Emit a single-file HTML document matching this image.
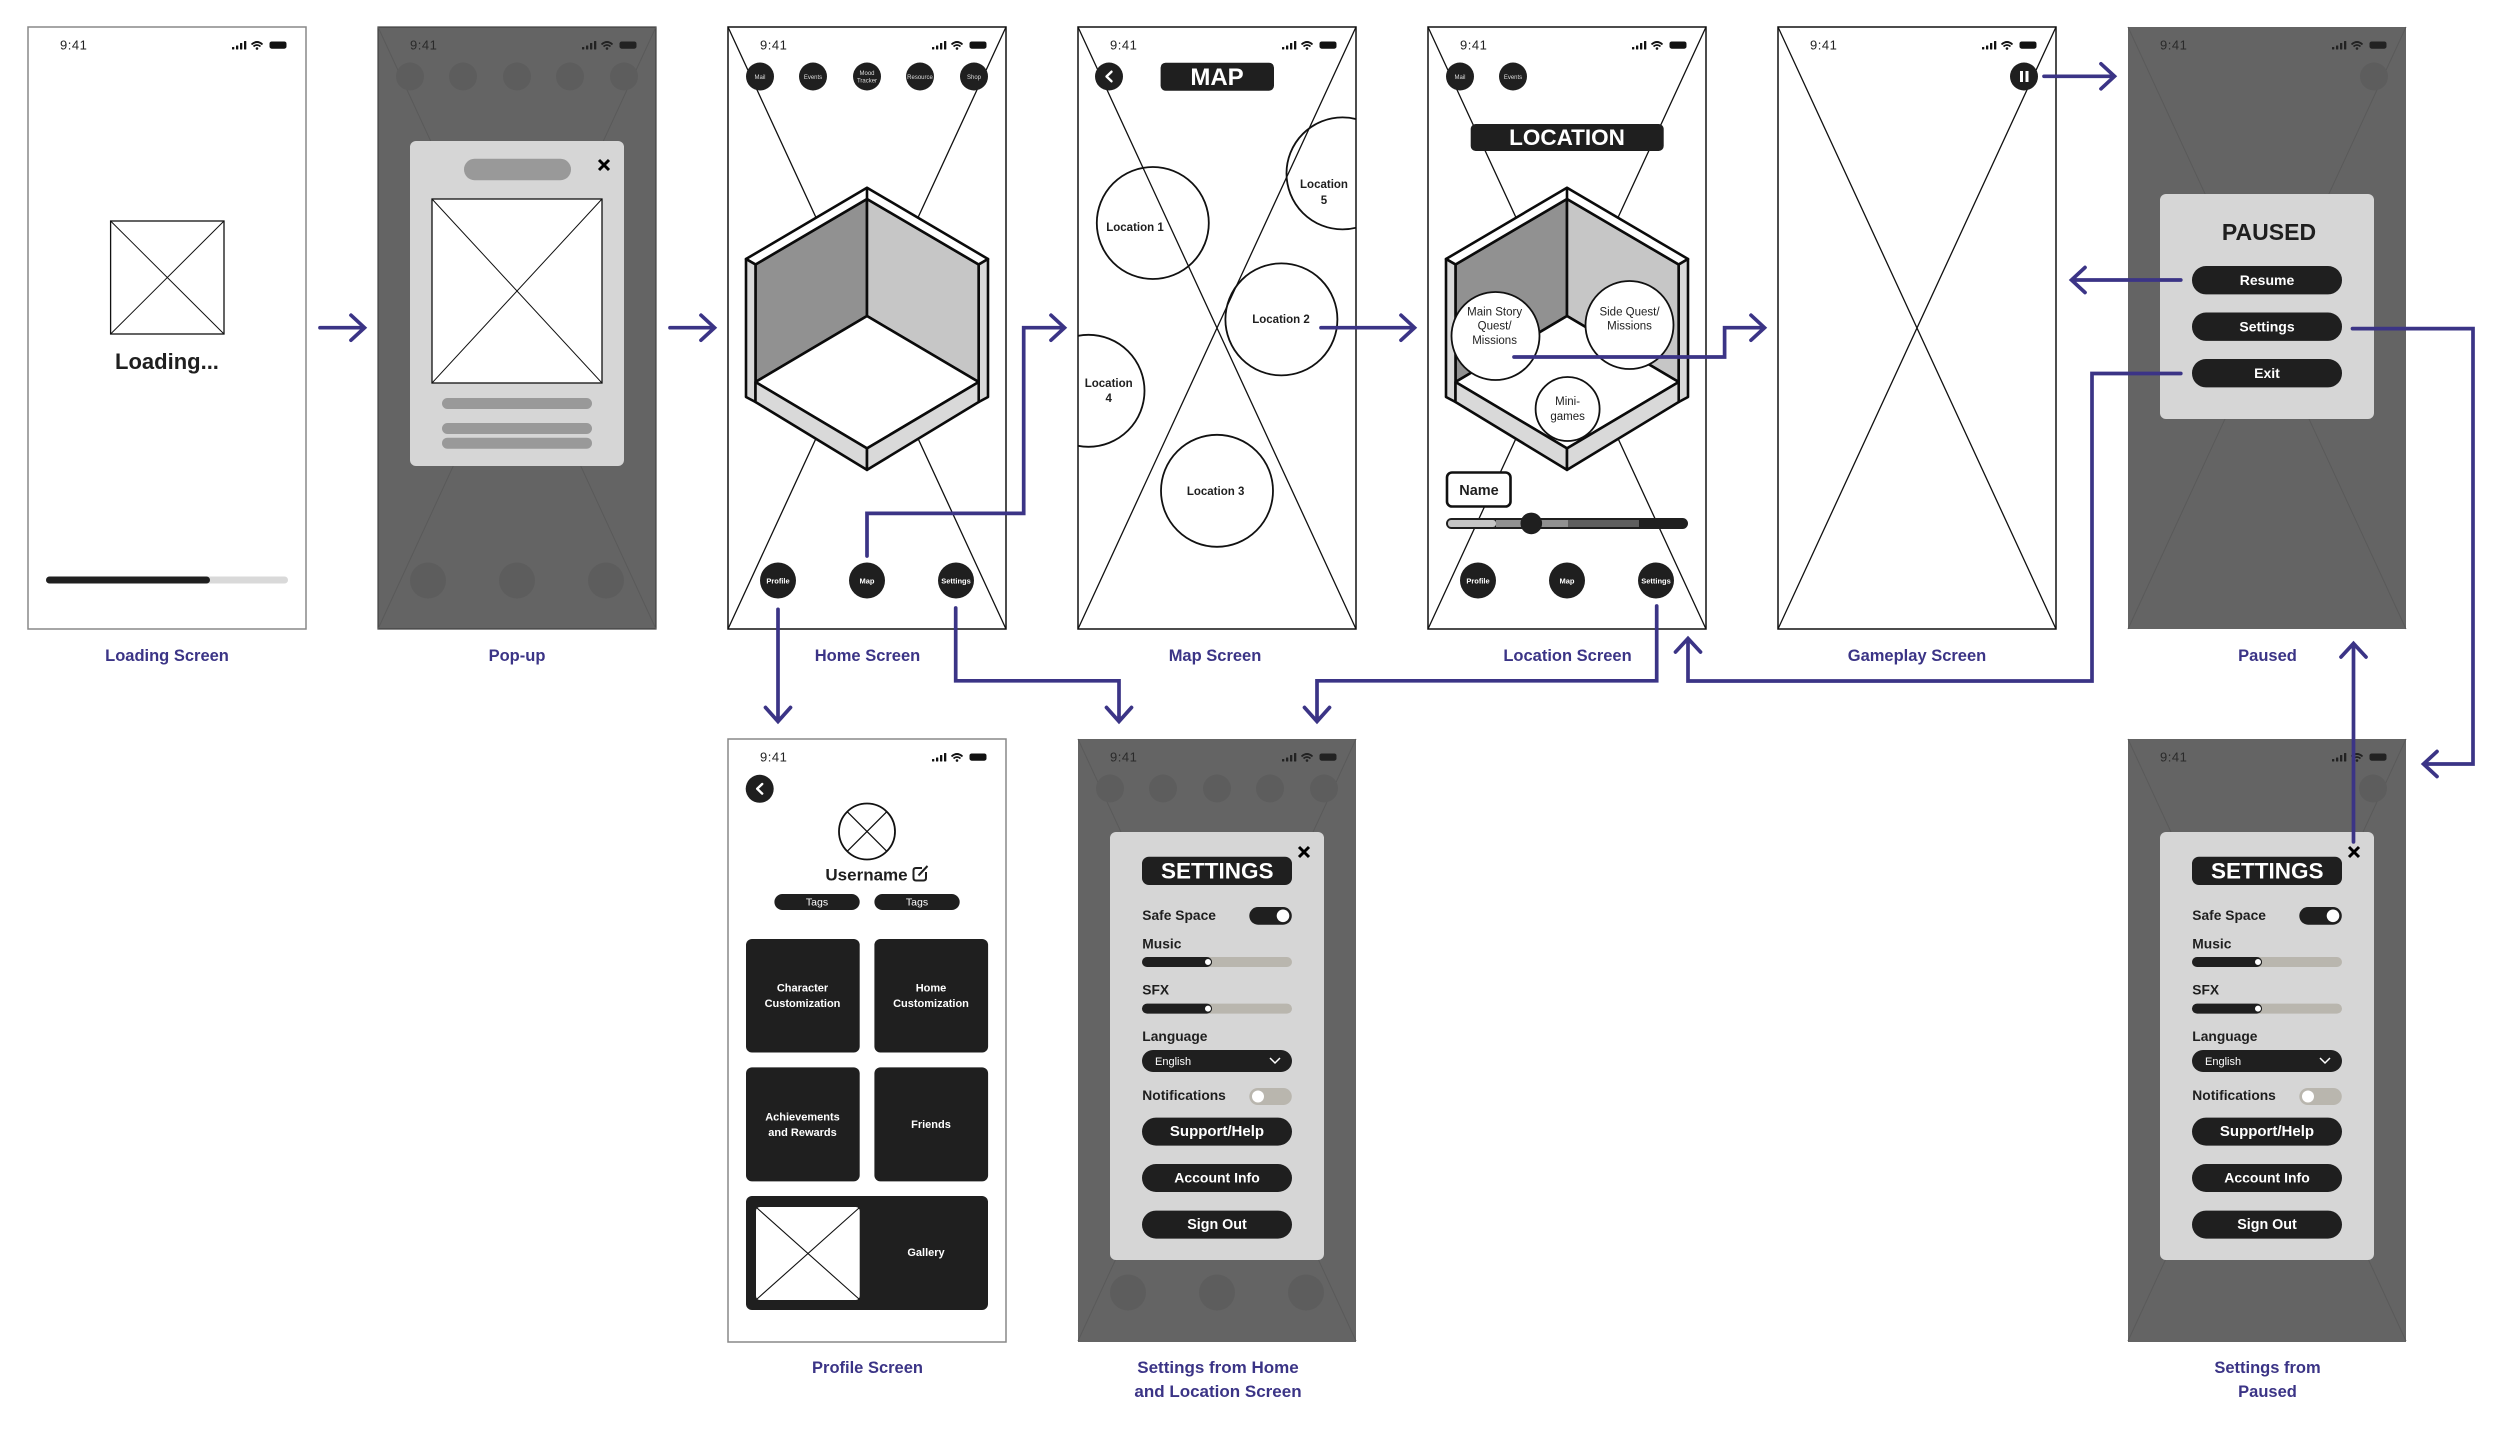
<!DOCTYPE html>
<html><head><meta charset="utf-8"><title>Wireframe flow</title>
<style>
html,body{margin:0;padding:0;background:#fff;width:2500px;height:1429px;overflow:hidden}
svg{display:block}
text{font-family:"Liberation Sans",sans-serif}
.m{text-anchor:middle}
.st{font-size:13px;letter-spacing:.5px;fill:#222}
.lb{font-size:16.500px;font-weight:bold;fill:#3b3486;text-anchor:middle}
.w{fill:#fff;text-anchor:middle;font-weight:bold}
.k{fill:#1f1f1f;font-weight:bold}
.ar{fill:none;stroke:#3b3486;stroke-width:3.700;stroke-linejoin:miter;stroke-linecap:round}
</style></head><body>
<svg xmlns="http://www.w3.org/2000/svg" width="2500" height="1429" viewBox="0 0 2500 1429">
<defs>
<g id="icons">
<rect x="204" y="20" width="2.300" height="2.500" rx=".5"/><rect x="208" y="18.500" width="2.300" height="4" rx=".5"/><rect x="212" y="16" width="2.300" height="6.500" rx=".5"/><rect x="216" y="14" width="2.300" height="8.500" rx=".5"/>
<path d="M223.500 17.500Q229 12.500 234.500 17.500M225.500 19.500Q229 16.500 232.500 19.500" fill="none" stroke="currentColor" stroke-width="1.800"/><circle cx="229" cy="21.500" r="1.300"/>
<rect x="241.500" y="14.500" width="17" height="7.200" rx="2.200"/>
</g>
<g id="xw"><path d="M0 0L278 602M278 0L0 602" fill="none" stroke="#111" stroke-width="1.300"/></g>
<g id="xg"><path d="M0 0L278 602M278 0L0 602" fill="none" stroke="#5a5a5a" stroke-width="1"/></g>
<g id="hex" stroke="#0b0b0b" stroke-width="2.600" stroke-linejoin="round">
<path d="M139 172L27.500 237.500V355L139 289Z" fill="#919191"/>
<path d="M139 172L250.700 237.500V355L139 289Z" fill="#c6c6c6"/>
<path d="M139 289L250.700 355L139 421.400L27.500 355Z" fill="#fff"/>
<path d="M139 160.700L260 232L250.700 237.500L139 172L27.500 237.500L18 232Z" fill="#fff"/>
<path d="M18 232L27.500 237.500V375L18 370Z" fill="#d9d9d9"/>
<path d="M260 232L250.700 237.500V375L260 370Z" fill="#d9d9d9"/>
<path d="M27.500 355L139 421.400V442.900L27.500 375Z" fill="#d9d9d9"/>
<path d="M250.700 355L139 421.400V442.900L250.700 375Z" fill="#d9d9d9"/>
<path d="M139 160.700V172" fill="none"/>
</g>
<g id="chev"><path d="M2.500 -4.800L-2.500 0L2.500 4.800" fill="none" stroke="#fff" stroke-width="2.400" stroke-linecap="round" stroke-linejoin="round"/></g>
<g id="pbtn"><rect x="-4" y="-5.500" width="3" height="11" fill="#fff"/><rect x="1.500" y="-5.500" width="3" height="11" fill="#fff"/></g>
<g id="close"><path d="M-5 -5L5 5M5 -5L-5 5" stroke="#000" stroke-width="3" fill="none"/></g>
<clipPath id="fr"><rect x="0" y="0" width="278" height="602"/></clipPath>
<g id="ghostTop" fill="#5d5d5d"><circle cx="32" cy="49.500" r="14"/><circle cx="85" cy="49.500" r="14"/><circle cx="139" cy="49.500" r="14"/><circle cx="192" cy="49.500" r="14"/><circle cx="246" cy="49.500" r="14"/></g>
<g id="ghostBot" fill="#5d5d5d"><circle cx="50" cy="553.500" r="18"/><circle cx="139" cy="553.500" r="18"/><circle cx="228" cy="553.500" r="18"/></g>
<g id="topTwo" fill="#1f1f1f"><circle cx="32" cy="49.500" r="14"/><circle cx="85" cy="49.500" r="14"/></g>
<g id="bot3" fill="#1f1f1f"><circle cx="50" cy="553.500" r="18"/><circle cx="139" cy="553.500" r="18"/><circle cx="228" cy="553.500" r="18"/></g>
<g id="setbody">
<rect x="32" y="93" width="214" height="428" rx="6" fill="#d6d6d6"/>
<use href="#close" x="226" y="113"/>
<rect x="64" y="117.700" width="150" height="28.300" rx="7" fill="#1f1f1f"/>
<rect x="171.300" y="168" width="42.500" height="17.700" rx="8.800" fill="#1f1f1f"/><circle cx="205" cy="176.800" r="6.300" fill="#fff"/>
<rect x="64" y="218" width="150" height="10" rx="5" fill="#b9b6ae"/><rect x="64" y="218" width="70" height="10" rx="5" fill="#1f1f1f"/><circle cx="130" cy="223" r="3.500" fill="#fff" stroke="#1f1f1f"/>
<rect x="64" y="264.600" width="150" height="10" rx="5" fill="#b9b6ae"/><rect x="64" y="264.600" width="70" height="10" rx="5" fill="#1f1f1f"/><circle cx="130" cy="269.600" r="3.500" fill="#fff" stroke="#1f1f1f"/>
<rect x="64" y="311" width="150" height="22" rx="11" fill="#1f1f1f"/><path d="M192 319L197 324L202 319" fill="none" stroke="#fff" stroke-width="1.500"/>
<rect x="171.300" y="349" width="42.500" height="17" rx="8.500" fill="#b9b6ae"/><circle cx="180" cy="357.500" r="6" fill="#fff"/>
<rect x="64" y="378.600" width="150" height="28" rx="14" fill="#1f1f1f"/>
<rect x="64" y="425" width="150" height="28" rx="14" fill="#1f1f1f"/>
<rect x="64" y="471.600" width="150" height="28" rx="14" fill="#1f1f1f"/>
</g>
</defs>

<!-- Loading -->
<g transform="translate(28,27)">
<rect x="0" y="0" width="278" height="602" fill="#fff" stroke="#888" stroke-width="1.500"/>
<text class="st" x="32" y="22.500">9:41</text><use href="#icons" color="#111" fill="#111"/>
<rect x="82.600" y="194" width="113.400" height="113" fill="#fff" stroke="#111" stroke-width="1.300"/><path d="M82.600 194L196 307M196 194L82.600 307" stroke="#111" stroke-width="1"/>
<text class="k m" x="139" y="342" font-size="22">Loading...</text>
<rect x="18" y="549.500" width="242" height="7" rx="3.500" fill="#d9d9d9"/><rect x="18" y="549.500" width="164" height="7" rx="3.500" fill="#1f1f1f"/>
</g>
<text class="lb" x="167" y="661">Loading Screen</text>

<!-- Pop-up -->
<g transform="translate(378,27)">
<rect x="0" y="0" width="278" height="602" fill="#646464" stroke="#3f3f3f" stroke-width="1.200"/>
<use href="#xg"/><use href="#ghostTop"/><use href="#ghostBot"/>
<text class="st" x="32" y="22.500" style="fill:#2a2a2a">9:41</text><use href="#icons" color="#222" fill="#222"/>
<rect x="32" y="114" width="214" height="325" rx="6" fill="#d6d6d6"/>
<rect x="86" y="131.700" width="107" height="21.500" rx="10.700" fill="#999"/>
<use href="#close" x="226" y="138"/>
<rect x="54" y="172" width="170" height="184" fill="#fff" stroke="#111" stroke-width="1.300"/><path d="M54 172L224 356M224 172L54 356" stroke="#111" stroke-width="1"/>
<rect x="64" y="371" width="150" height="11" rx="5.500" fill="#999"/><rect x="64" y="396" width="150" height="11" rx="5.500" fill="#999"/><rect x="64" y="410.700" width="150" height="11" rx="5.500" fill="#999"/>
</g>
<text class="lb" x="517" y="661">Pop-up</text>

<!-- Home -->
<g transform="translate(728,27)">
<rect x="0" y="0" width="278" height="602" fill="#fff" stroke="#111" stroke-width="1.500"/><use href="#xw"/>
<text class="st" x="32" y="22.500">9:41</text><use href="#icons" color="#111" fill="#111"/>
<use href="#hex"/>
<g fill="#1f1f1f"><circle cx="32" cy="49.500" r="14"/><circle cx="85" cy="49.500" r="14"/><circle cx="139" cy="49.500" r="14"/><circle cx="192" cy="49.500" r="14"/><circle cx="246" cy="49.500" r="14"/></g>
<g font-size="6"><text class="m" fill="#ddd" x="32" y="52">Mail</text><text class="m" fill="#ddd" x="85" y="52">Events</text><text class="m" fill="#ddd" x="139" y="48">Mood</text><text class="m" fill="#ddd" x="139" y="55.500">Tracker</text><text class="m" fill="#ddd" x="192" y="52">Resource</text><text class="m" fill="#ddd" x="246" y="52">Shop</text></g>
<use href="#bot3"/>
<g font-size="7.500"><text class="w" x="50" y="556.500">Profile</text><text class="w" x="139" y="556.500">Map</text><text class="w" x="228" y="556.500">Settings</text></g>
</g>
<text class="lb" x="867.500" y="661">Home Screen</text>

<!-- Map -->
<g transform="translate(1078,27)">
<rect x="0" y="0" width="278" height="602" fill="#fff" stroke="#111" stroke-width="1.500"/><use href="#xw"/>
<text class="st" x="32" y="22.500">9:41</text><use href="#icons" color="#111" fill="#111"/>
<circle cx="31" cy="49.500" r="14" fill="#1f1f1f"/><use href="#chev" x="31" y="49.500"/>
<rect x="82.600" y="35.700" width="113.400" height="28" rx="5" fill="#1f1f1f"/>
<text class="w" x="139" y="58" font-size="24">MAP</text>
<g fill="none" stroke="#111" stroke-width="1.800" clip-path="url(#fr)">
<circle cx="74.800" cy="196" r="56"/><circle cx="264.500" cy="146.400" r="56"/><circle cx="203.400" cy="292.400" r="56"/><circle cx="139" cy="463.800" r="56"/><circle cx="10.500" cy="363.800" r="56"/>
</g>
<g font-size="11.500">
<text class="k m" x="57" y="204">Location 1</text>
<text class="k m" x="246" y="161">Location</text><text class="k m" x="246" y="177">5</text>
<text class="k m" x="203" y="296">Location 2</text>
<text class="k m" x="137.600" y="468">Location 3</text>
<text class="k m" x="30.700" y="360">Location</text><text class="k m" x="30.700" y="375">4</text>
</g>
</g>
<text class="lb" x="1215" y="661">Map Screen</text>

<!-- Location -->
<g transform="translate(1428,27)">
<rect x="0" y="0" width="278" height="602" fill="#fff" stroke="#111" stroke-width="1.500"/><use href="#xw"/>
<text class="st" x="32" y="22.500">9:41</text><use href="#icons" color="#111" fill="#111"/>
<use href="#topTwo"/>
<g font-size="6"><text class="m" fill="#ddd" x="32" y="52">Mail</text><text class="m" fill="#ddd" x="85" y="52">Events</text></g>
<rect x="42.700" y="97" width="193" height="27" rx="5" fill="#1f1f1f"/>
<text class="w" x="139" y="118" font-size="22.500">LOCATION</text>
<use href="#hex"/>
<g fill="#fff" stroke="#111" stroke-width="1.800"><circle cx="67.500" cy="309" r="44"/><circle cx="201.500" cy="298" r="44"/><circle cx="139.600" cy="382" r="32"/></g>
<g font-size="11.500" fill="#222">
<text class="m" x="66.600" y="288.400">Main Story</text><text class="m" x="66.600" y="302.700">Quest/</text><text class="m" x="66.600" y="317">Missions</text>
<text class="m" x="201.500" y="288.400">Side Quest/</text><text class="m" x="201.500" y="302.700">Missions</text>
<text class="m" x="139.600" y="378">Mini-</text><text class="m" x="139.600" y="393">games</text>
</g>
<rect x="19" y="445.500" width="63.500" height="34" rx="5" fill="#fff" stroke="#111" stroke-width="2.600"/>
<text class="k m" x="51" y="468" font-size="14.500">Name</text>
<rect x="18" y="491" width="242" height="11" rx="5.500" fill="#1f1f1f"/>
<rect x="20" y="493" width="48" height="7" rx="3" fill="#c6c6c6"/><rect x="68" y="493" width="72" height="7" fill="#919191"/><rect x="140" y="493" width="71" height="7" fill="#5f5f5f"/>
<circle cx="103.300" cy="496.400" r="10.800" fill="#1f1f1f"/>
<use href="#bot3"/>
<g font-size="7.500"><text class="w" x="50" y="556.500">Profile</text><text class="w" x="139" y="556.500">Map</text><text class="w" x="228" y="556.500">Settings</text></g>
</g>
<text class="lb" x="1567.500" y="661">Location Screen</text>

<!-- Gameplay -->
<g transform="translate(1778,27)">
<rect x="0" y="0" width="278" height="602" fill="#fff" stroke="#111" stroke-width="1.500"/><use href="#xw"/>
<text class="st" x="32" y="22.500">9:41</text><use href="#icons" color="#111" fill="#111"/>
<circle cx="246" cy="49.500" r="14" fill="#1f1f1f"/><use href="#pbtn" x="246" y="49.500"/>
</g>
<text class="lb" x="1917" y="661">Gameplay Screen</text>

<!-- Paused -->
<g transform="translate(2128,27)">
<rect x="0" y="0" width="278" height="602" fill="#646464"/><use href="#xg"/>
<circle cx="246" cy="49.500" r="14" fill="#5d5d5d"/>
<text class="st" x="32" y="22.500" style="fill:#2a2a2a">9:41</text><use href="#icons" color="#222" fill="#222"/>
<rect x="32" y="167" width="214" height="225" rx="6" fill="#d6d6d6"/>
<text class="k m" x="141" y="213" font-size="23">PAUSED</text>
<rect x="64" y="239" width="150" height="28.400" rx="14" fill="#1f1f1f"/>
<rect x="64" y="285.500" width="150" height="28.400" rx="14" fill="#1f1f1f"/>
<rect x="64" y="332" width="150" height="28.400" rx="14" fill="#1f1f1f"/>
<g font-size="14"><text class="w" x="139" y="258">Resume</text><text class="w" x="139" y="304.500">Settings</text><text class="w" x="139" y="351">Exit</text></g>
</g>
<text class="lb" x="2267.500" y="661">Paused</text>

<!-- Profile -->
<g transform="translate(728,739)">
<rect x="0" y="0" width="278" height="603" fill="#fff" stroke="#888" stroke-width="1.500"/>
<text class="st" x="32" y="22.500">9:41</text><use href="#icons" color="#111" fill="#111"/>
<circle cx="31.700" cy="49.800" r="14" fill="#1f1f1f"/><use href="#chev" x="31.700" y="49.800"/>
<circle cx="139" cy="92.500" r="28" fill="#fff" stroke="#111" stroke-width="1.800"/><path d="M119.200 72.700L158.800 112.300M158.800 72.700L119.200 112.300" stroke="#111" stroke-width="1.300"/>
<text class="k m" x="138.500" y="141.400" font-size="17">Username</text>
<path d="M194 129H188Q185.500 129 185.500 131.500V139Q185.500 141.500 188 141.500H195.500Q198 141.500 198 139V133M190.500 136.500L199.500 127" fill="none" stroke="#1f1f1f" stroke-width="2"/>
<rect x="46.400" y="155" width="85.300" height="16" rx="8" fill="#1f1f1f"/><rect x="146.400" y="155" width="85.300" height="16" rx="8" fill="#1f1f1f"/>
<g font-size="10.500"><text class="m" fill="#fff" x="89" y="166.500">Tags</text><text class="m" fill="#fff" x="189" y="166.500">Tags</text></g>
<g fill="#1f1f1f"><rect x="18" y="200" width="113.700" height="113.500" rx="6"/><rect x="146.400" y="200" width="113.700" height="113.500" rx="6"/><rect x="18" y="328.400" width="113.700" height="114" rx="6"/><rect x="146.400" y="328.400" width="113.700" height="114" rx="6"/><rect x="18" y="457" width="242" height="114" rx="6"/></g>
<rect x="28" y="468" width="103.700" height="93" rx="4" fill="#fff"/><path d="M29 469L131 560M131 469L29 560" stroke="#111" stroke-width="1.100"/>
<g font-size="11">
<text class="w" x="74.500" y="252.500">Character</text><text class="w" x="74.500" y="268">Customization</text>
<text class="w" x="203" y="252.500">Home</text><text class="w" x="203" y="268">Customization</text>
<text class="w" x="74.500" y="381.400">Achievements</text><text class="w" x="74.500" y="397">and Rewards</text>
<text class="w" x="203" y="389">Friends</text>
<text class="w" x="198" y="517">Gallery</text>
</g>
</g>
<text class="lb" x="867.500" y="1373">Profile Screen</text>

<!-- Settings from Home -->
<g transform="translate(1078,739)">
<rect x="0" y="0" width="278" height="603" fill="#646464"/><use href="#xg"/><use href="#ghostTop"/><use href="#ghostBot"/>
<text class="st" x="32" y="22.500" style="fill:#2a2a2a">9:41</text><use href="#icons" color="#222" fill="#222"/>
<use href="#setbody"/>
<text class="w" x="139.300" y="139.500" font-size="22.500">SETTINGS</text>
<g font-size="13.800"><text class="k" x="64.300" y="181">Safe Space</text><text class="k" x="64.300" y="209.500">Music</text><text class="k" x="64.300" y="255.500">SFX</text><text class="k" x="64.300" y="302">Language</text><text class="k" x="64.300" y="361">Notifications</text></g>
<text fill="#fff" x="77" y="326" font-size="11">English</text>
<text class="w" x="139" y="397" font-size="15">Support/Help</text><text class="w" x="139" y="443.500" font-size="14">Account Info</text><text class="w" x="139" y="490" font-size="14.300">Sign Out</text>
</g>
<text class="lb" x="1218" y="1373" font-size="17" style="font-size:17px">Settings from Home</text>
<text class="lb" x="1218" y="1397" style="font-size:17px">and Location Screen</text>

<!-- Settings from Paused -->
<g transform="translate(2128,739)">
<rect x="0" y="0" width="278" height="603" fill="#646464"/><use href="#xg"/><circle cx="245" cy="49.500" r="14" fill="#5d5d5d"/>
<text class="st" x="32" y="22.500" style="fill:#2a2a2a">9:41</text><use href="#icons" color="#222" fill="#222"/>
<use href="#setbody"/>
<text class="w" x="139.300" y="139.500" font-size="22.500">SETTINGS</text>
<g font-size="13.800"><text class="k" x="64.300" y="181">Safe Space</text><text class="k" x="64.300" y="209.500">Music</text><text class="k" x="64.300" y="255.500">SFX</text><text class="k" x="64.300" y="302">Language</text><text class="k" x="64.300" y="361">Notifications</text></g>
<text fill="#fff" x="77" y="326" font-size="11">English</text>
<text class="w" x="139" y="397" font-size="15">Support/Help</text><text class="w" x="139" y="443.500" font-size="14">Account Info</text><text class="w" x="139" y="490" font-size="14.300">Sign Out</text>
</g>
<text class="lb" x="2267.500" y="1373">Settings from</text>
<text class="lb" x="2267.500" y="1397">Paused</text>

<!-- Arrows -->
<g class="ar">
<path class="ar" d="M320 327.700H364M351 315.200L364.500 327.700L351 340.200"/>
<path class="ar" d="M670 327.700H714M701 315.200L714.500 327.700L701 340.200"/>
<path class="ar" d="M867 556V513.400H1023.700V327.700H1064M1051 315.200L1064.500 327.700L1051 340.200"/>
<path class="ar" d="M1321 327.700H1414M1401 315.200L1414.500 327.700L1401 340.200"/>
<path class="ar" d="M1514 357H1724.600V327.700H1764M1751 315.200L1764.500 327.700L1751 340.200"/>
<path class="ar" d="M2044 76.300H2114M2101 63.800L2114.500 76.300L2101 88.800"/>
<path class="ar" d="M2180.800 280H2072M2085 267.500L2071.500 280L2085 292.500"/>
<path class="ar" d="M778 609.400V721M765.500 707.500L778 721.500L790.500 707.500"/>
<path class="ar" d="M955.700 608V680.800H1119V721M1106.500 707.500L1119 721.500L1131.500 707.500"/>
<path class="ar" d="M1656.700 606V680.800H1317V721M1304.500 707.500L1317 721.500L1329.500 707.500"/>
<path class="ar" d="M2180.800 373.500H2092V681H1688V639M1675.500 652L1688 638.500L1700.500 652"/>
<path class="ar" d="M2352.500 328.600H2473V764H2424M2437 751.500L2423.500 764L2437 776.500"/>
<path class="ar" d="M2353.500 841.900V644M2341 657L2353.500 643.500L2366 657"/>
</g>
</svg>
</body></html>
